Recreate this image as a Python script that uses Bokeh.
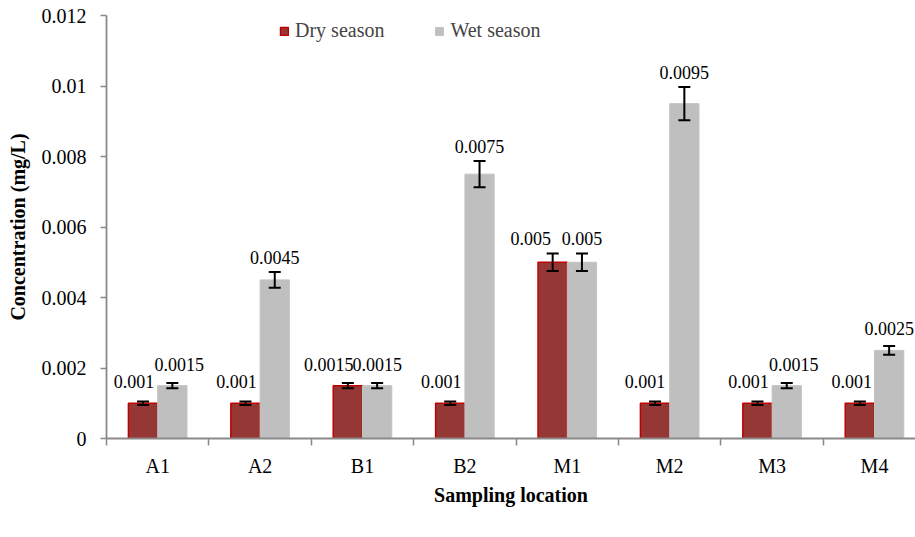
from bokeh.plotting import figure
from bokeh.models import (ColumnDataSource, FixedTicker, CustomJSTickFormatter, Whisker,
                          TeeHead, LabelSet, Legend, LegendItem, Range1d)
from bokeh.embed import file_html
from bokeh.resources import INLINE

categories = ["A1", "A2", "B1", "B2", "M1", "M2", "M3", "M4"]
dry = [0.001, 0.001, 0.0015, 0.001, 0.005, 0.001, 0.001, 0.001]
wet = [0.0015, 0.0045, 0.0015, 0.0075, 0.005, 0.0095, 0.0015, 0.0025]
dry_err = [0.00005, 0.00005, 0.000075, 0.00005, 0.00025, 0.00005, 0.00005, 0.00005]
wet_err = [0.000075, 0.000225, 0.000075, 0.000375, 0.00025, 0.000475, 0.000075, 0.000125]
dry_labels = ["0.001", "0.001", "0.0015", "0.001", "0.005", "0.001", "0.001", "0.001"]
wet_labels = ["0.0015", "0.0045", "0.0015", "0.0075", "0.005", "0.0095", "0.0015", "0.0025"]
y_ticks = [0, 0.002, 0.004, 0.006, 0.008, 0.01, 0.012]

# horizontal nudges (pixels) of the data labels, as placed in the original chart
dry_label_nudge_px = [-9, -9, -19, -9, -22, -10, -9, -8]
wet_label_nudge_px = [7, 0, 0, 0, 0, 0, 7, 0]

FONT = "Liberation Serif"
OFF = 0.143
BW = 0.286
FRAME_W = 809
FRAME_H = 423
CAT_PX = 102.4
Y_MAX = 0.012
px_per_unit = FRAME_H / Y_MAX

idx = list(range(len(categories)))


def make_source(offset, vals, errs, labels, nudges):
    return ColumnDataSource(dict(
        x=[i + offset for i in idx], top=vals,
        upper=[v + e for v, e in zip(vals, errs)],
        lower=[v - e for v, e in zip(vals, errs)],
        label=labels, dx=nudges,
        dy=[max(8.0, 15.0 - e * px_per_unit) for e in errs]))


src_dry = make_source(-OFF, dry, dry_err, dry_labels, dry_label_nudge_px)
src_wet = make_source(OFF, wet, wet_err, wet_labels, wet_label_nudge_px)

p = figure(frame_width=FRAME_W, frame_height=FRAME_H, min_border_left=106, min_border_top=15,
           min_border_right=0, min_border_bottom=92,
           x_range=Range1d(-0.5, -0.5 + FRAME_W / CAT_PX), y_range=Range1d(0, Y_MAX),
           output_backend="svg", toolbar_location=None, background_fill_color="white",
           border_fill_color="white")
p.outline_line_color = None
p.grid.visible = False

r_dry = p.vbar(x="x", top="top", width=BW, source=src_dry, fill_color="#953735",
               line_color="#C00000", line_width=1.5)
r_wet = p.vbar(x="x", top="top", width=BW, source=src_wet, fill_color="#BFBFBF",
               line_color="#C4C4C4", line_width=1)

for s in (src_dry, src_wet):
    w = Whisker(base="x", upper="upper", lower="lower", source=s, level="overlay",
                line_color="black", line_width=2,
                upper_head=TeeHead(size=12, line_color="black", line_width=2),
                lower_head=TeeHead(size=12, line_color="black", line_width=2))
    p.add_layout(w)

for s in (src_dry, src_wet):
    ls = LabelSet(x="x", y="upper", text="label", source=s, text_align="center",
                  text_baseline="alphabetic", x_offset="dx", y_offset="dy", text_font=FONT,
                  text_font_size="18px", text_color="black")
    p.add_layout(ls)

# axes
p.yaxis.ticker = FixedTicker(ticks=y_ticks)
p.yaxis.formatter = CustomJSTickFormatter(code="return tick.toString()")
p.yaxis.axis_label = "Concentration (mg/L)"
p.xaxis.ticker = FixedTicker(ticks=idx, minor_ticks=[i - 0.5 for i in idx] + [len(idx) - 0.5])
p.xaxis.formatter = CustomJSTickFormatter(args=dict(names=categories),
                                          code="return names[Math.round(tick)] || ''")
p.xaxis.axis_label = "Sampling location"

for ax in (p.xaxis, p.yaxis):
    ax.axis_line_color = "#898989"
    ax.axis_line_width = 1.8
    ax.major_label_text_font = FONT
    ax.major_label_text_font_size = "20px"
    ax.major_label_text_color = "black"
    ax.axis_label_text_font = FONT
    ax.axis_label_text_font_style = "bold"
    ax.axis_label_text_font_size = "20px"
    ax.axis_label_text_color = "black"

p.yaxis.major_tick_line_color = "#898989"
p.yaxis.major_tick_line_width = 1.5
p.yaxis.major_tick_out = 6
p.yaxis.major_tick_in = 0
p.yaxis.minor_tick_line_color = None
p.yaxis.major_label_standoff = 14
p.yaxis.axis_label_standoff = 10

p.xaxis.major_tick_line_color = None
p.xaxis.major_tick_out = 0
p.xaxis.major_tick_in = 0
p.xaxis.minor_tick_line_color = "#898989"
p.xaxis.minor_tick_line_width = 1.5
p.xaxis.minor_tick_out = 7
p.xaxis.minor_tick_in = 0
p.xaxis.major_label_standoff = 9
p.xaxis.axis_label_standoff = 4

legend = Legend(items=[LegendItem(label="Dry season", renderers=[r_dry]),
                       LegendItem(label="Wet season", renderers=[r_wet])],
                orientation="horizontal", location=(173, 396),
                label_text_font=FONT, label_text_font_size="20px",
                glyph_width=10, glyph_height=10, spacing=50, label_standoff=6,
                border_line_color=None, background_fill_alpha=0)
p.add_layout(legend, "center")

open("out.html", "w").write(file_html(p, INLINE))
